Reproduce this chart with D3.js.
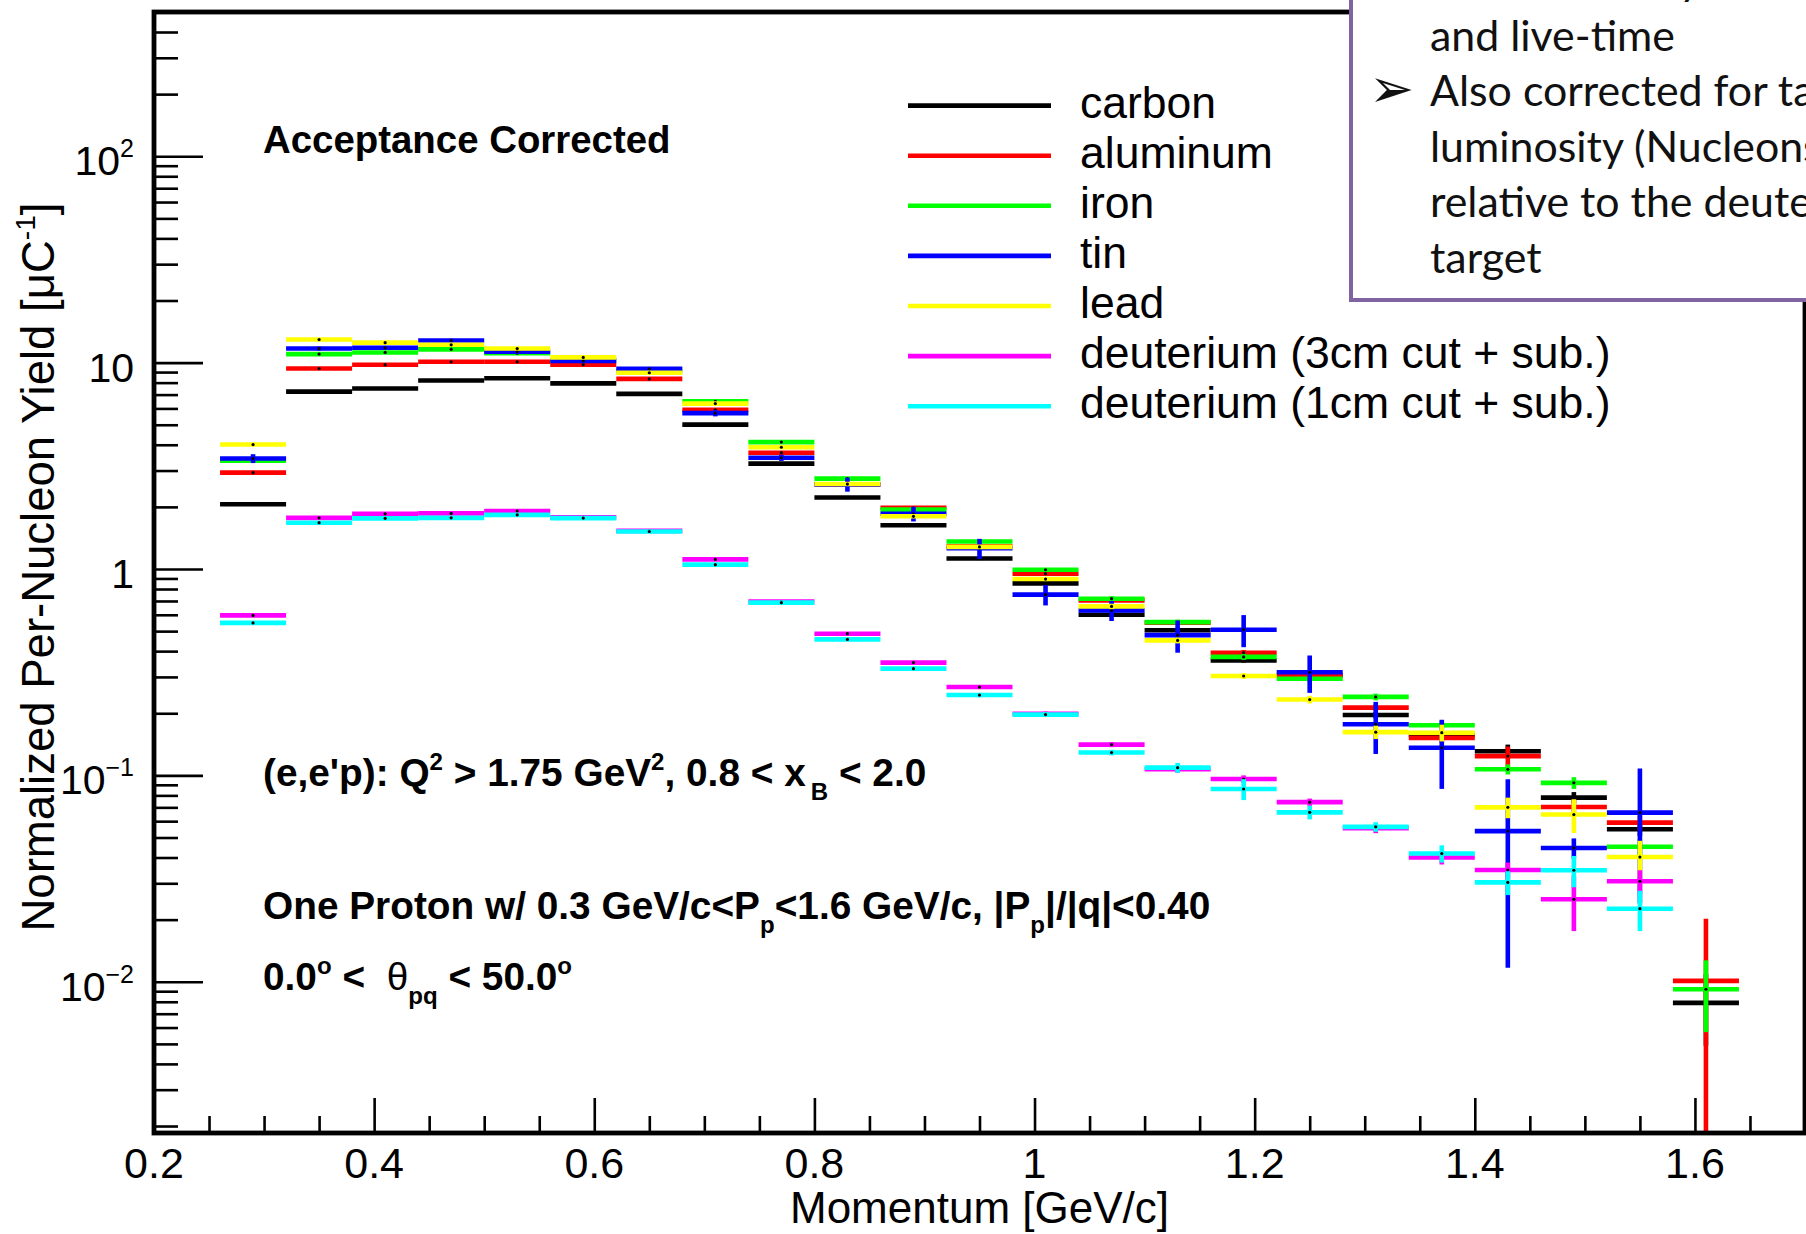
<!DOCTYPE html>
<html><head><meta charset="utf-8">
<script src="https://cdn.jsdelivr.net/npm/d3@7/dist/d3.min.js"></script>
<style>
html,body{margin:0;padding:0;background:#fff;overflow:hidden}
svg{display:block}
text{white-space:pre}
</style></head><body>
<svg id="c" width="1806" height="1234" xmlns="http://www.w3.org/2000/svg"></svg>
<script>
// ---------------- data ----------------
const binCenters = [0.29,0.35,0.41,0.47,0.53,0.59,0.65,0.71,0.77,0.83,0.89,0.95,1.01,1.07,1.13,1.19,1.25,1.31,1.37,1.43,1.49,1.55,1.61];
const binWidth = 0.06;

const carbon   = [2.06,7.24,7.49,8.19,8.4,7.93,7.06,5.01,3.24,2.22,1.63,1.125,0.852,0.60,0.505,0.361,0.304,0.196,0.157,0.131,0.078,0.0548,0.0079];
const aluminum = [2.93,9.36,9.77,10.1,10.1,9.78,8.34,5.9,3.66,2.57,1.98,1.29,0.949,0.705,0.55,0.393,0.306,0.213,0.152,0.124,0.0703,0.059,0.0101];
const iron     = [3.35,11.0,11.2,11.6,11.1,10.3,9.1,6.5,4.12,2.74,1.94,1.36,0.992,0.718,0.553,0.375,0.294,0.240,0.175,0.107,0.092,0.0451,0.0092];
const tin      = [3.43,11.7,11.8,12.8,11.3,10.2,9.33,5.69,3.46,2.57,1.85,1.26,0.751,0.63,0.478,0.508,0.316,0.177,0.136,0.0537,0.0445,0.066,null];
const lead     = [4.01,12.94,12.5,12.2,11.7,10.6,8.93,6.33,3.89,2.58,1.80,1.28,0.894,0.659,0.451,0.303,0.233,0.162,0.161,0.070,0.0646,0.0402,null];
const deut3    = [0.596,1.77,1.85,1.86,1.91,1.78,1.53,1.113,0.695,0.486,0.352,0.268,0.199,0.141,0.107,0.096,0.0742,0.0555,0.0400,0.0348,0.0251,0.0307,null];
const deut1    = [0.548,1.676,1.76,1.77,1.83,1.765,1.52,1.05,0.687,0.456,0.329,0.245,0.197,0.129,0.109,0.0859,0.0662,0.0563,0.0418,0.0303,0.0347,0.0226,null];

const carbonErr   = [0.04,0.08,0.08,0.09,0.09,0.09,0.08,0.06,0.04,0.03,0.025,0.02,0.015,0.012,0.011,0.009,0.008,0.007,0.007,0.01,0.005,0.004,0.003];
const aluminumErr = [0.06,0.1,0.1,0.1,0.1,0.1,0.09,0.07,0.05,0.04,0.035,0.025,0.02,0.02,0.015,0.012,0.01,0.008,0.008,0.014,0.006,0.005,0.0101];
const ironErr     = [0.08,0.12,0.12,0.12,0.12,0.11,0.1,0.08,0.05,0.04,0.03,0.025,0.02,0.02,0.015,0.012,0.01,0.009,0.008,0.006,0.006,0.004,0.0035];
const tinErr      = [0.17,0.25,0.25,0.25,0.22,0.2,0.2,0.2,0.12,0.2,0.15,0.14,0.085,0.07,0.085,0.09,0.065,0.05,0.05,0.042,0.005,0.042,null];
const leadErr     = [0.08,0.15,0.15,0.15,0.14,0.13,0.1,0.08,0.06,0.04,0.03,0.025,0.02,0.02,0.015,0.01,0.01,0.012,0.015,0.008,0.012,0.008,null];
const deut3Err    = [0.01,0.02,0.02,0.02,0.02,0.02,0.02,0.015,0.01,0.008,0.007,0.006,0.005,0.004,0.004,0.004,0.003,0.003,0.003,0.003,0.0075,0.004,null];
const deut1Err    = [0.01,0.02,0.02,0.02,0.02,0.02,0.02,0.015,0.01,0.008,0.007,0.006,0.005,0.004,0.006,0.01,0.005,0.003,0.004,0.004,0.006,0.005,null];

const seriesNames = ["carbon","aluminum","iron","tin","lead","deuterium (3cm cut + sub.)","deuterium (1cm cut + sub.)"];
const seriesValues = [carbon,aluminum,iron,tin,lead,deut3,deut1];
const seriesErrors = [carbonErr,aluminumErr,ironErr,tinErr,leadErr,deut3Err,deut1Err];

const xMajorTicks = [0.2,0.4,0.6,0.8,1.0,1.2,1.4,1.6];
const xTickLabels = ["0.2","0.4","0.6","0.8","1","1.2","1.4","1.6"];
const yMajorTicks = [0.01,0.1,1,10,100];
const yTickBase   = ["10","10","1","10","10"];
const yTickExp    = ["\u22122","\u22121","","","2"];

const boxLines = ["Normalized by beam charge","and live-time","Also corrected for target","luminosity (Nucleons/cm\u00b2)","relative to the deuterium","target"];
const boxBullets = [true,false,true,false,false,false];

// ---------------- style ----------------
const colors = ["#000000","#ff0000","#00ff00","#0000ff","#ffff00","#ff00ff","#00ffff"];
const FONT = "'Liberation Sans', Arial, Helvetica, sans-serif";

const svg = d3.select("#c");
svg.append("rect").attr("width",1806).attr("height",1234).attr("fill","#fff");

const x = d3.scaleLinear().domain([0.2,1.7]).range([154,1805]);
const y = d3.scaleLog().domain([0.00185,500]).range([1133,12]);
const yMin = y.domain()[0];

// ---------------- data marks ----------------
const gData = svg.append("g");
seriesValues.forEach((vals,si)=>{
  const g = gData.append("g");
  const pts = binCenters.map((c,i)=>({c, v: vals[i], e: seriesErrors[si][i]})).filter(d=>d.v!=null);
  g.selectAll("line.h").data(pts).enter().append("line")
    .attr("x1",d=>x(d.c-binWidth/2)).attr("x2",d=>x(d.c+binWidth/2))
    .attr("y1",d=>y(d.v)).attr("y2",d=>y(d.v))
    .attr("stroke",colors[si]).attr("stroke-width",4.6);
  g.selectAll("line.v").data(pts).enter().append("line")
    .attr("x1",d=>x(d.c)).attr("x2",d=>x(d.c))
    .attr("y1",d=>y(d.v+d.e)).attr("y2",d=>y(Math.max(d.v-d.e,yMin)))
    .attr("stroke",colors[si]).attr("stroke-width",4.6);
  g.selectAll("circle").data(pts).enter().append("circle")
    .attr("cx",d=>x(d.c)).attr("cy",d=>y(d.v)).attr("r",1.6).attr("fill","#000");
});

// ---------------- axes ----------------
const xMinor = d3.range(0.25,1.70,0.05).filter(v=>!xMajorTicks.some(m=>Math.abs(m-v)<1e-6));
const axB = svg.append("g").attr("transform","translate(0,1133)");
axB.call(d3.axisBottom(x).tickValues(xMajorTicks).tickSize(-35).tickFormat(""));
const axB2 = svg.append("g").attr("transform","translate(0,1133)");
axB2.call(d3.axisBottom(x).tickValues(xMinor).tickSize(-17).tickFormat(""));

const yMinor = [];
[0.001,0.01,0.1,1,10,100].forEach(dec=>{ for(let k=2;k<=9;k++){ const v=dec*k; if(v>=y.domain()[0] && v<=y.domain()[1]) yMinor.push(v);} });
const axL = svg.append("g").attr("transform","translate(154,0)");
axL.call(d3.axisLeft(y).tickValues(yMajorTicks).tickSize(-49).tickFormat(""));
const axL2 = svg.append("g").attr("transform","translate(154,0)");
axL2.call(d3.axisLeft(y).tickValues(yMinor).tickSize(-24).tickFormat(""));
[axB,axB2,axL,axL2].forEach(a=>{ a.select(".domain").remove(); a.selectAll(".tick line").attr("stroke","#000").attr("stroke-width",2.6); });

// frame
svg.append("rect").attr("x",154).attr("y",12).attr("width",1805-154).attr("height",1133-12)
  .attr("fill","none").attr("stroke","#000").attr("stroke-width",4.8);

// tick labels
xMajorTicks.forEach((v,i)=>{
  svg.append("text").attr("x",x(v)).attr("y",1178).attr("text-anchor","middle")
    .attr("font-family",FONT).attr("font-size",43).attr("fill","#000").text(xTickLabels[i]);
});
yMajorTicks.forEach((v,i)=>{
  const t = svg.append("text").attr("x",134).attr("y",y(v)+19).attr("text-anchor","end")
    .attr("font-family",FONT).attr("font-size",41).attr("fill","#000");
  t.append("tspan").text(yTickBase[i]);
  if (yTickExp[i]) t.append("tspan").attr("dy",-18).attr("font-size",25).text(yTickExp[i]);
});

// rich text helper
function rich(parent, x0, yb, F, parts, weight, extra){
  const t = parent.append("text").attr("x",x0).attr("y",yb).attr("font-size",F)
    .attr("font-family",FONT).attr("font-weight",weight||"normal").attr("fill","#000");
  if (extra) extra(t);
  let cur = 0;
  parts.forEach(p=>{
    const s=p[0], k=p[1]||"n";
    let target=0, size=F;
    if (k==="sup"){ target=-0.42*F; size=0.62*F; }
    if (k==="sub"){ target=0.36*F; size=0.62*F; }
    const ts = t.append("tspan").attr("dy",target-cur).attr("font-size",size).text(s);
    if (p[2]) ts.attr("dx",p[2]);
    if (k==="nw") ts.attr("font-weight","normal");
    cur = target;
  });
  return t;
}

// axis titles
svg.append("text").attr("x",x(0.95)).attr("y",1223).attr("text-anchor","middle")
  .attr("font-family",FONT).attr("font-size",44).attr("fill","#000").text("Momentum [GeV/c]");
rich(svg, 0, 0, 45.5, [["Normalized Per-Nucleon Yield [\u03bcC"],["-1","sup"],["]"]], "normal",
  t=>t.attr("text-anchor","middle").attr("transform","translate(54,567) rotate(-90)"));

// annotations
rich(svg, 263, 153, 38.4, [["Acceptance Corrected"]], "bold");
rich(svg, 263, 786, 38.8, [["(e,e'p): Q"],["2","sup"],[" > 1.75 GeV"],["2","sup"],[", 0.8 < x"],["B","sub",5],[" < 2.0"]], "bold");
rich(svg, 263, 919, 38.8, [["One Proton w/ 0.3 GeV/c<P"],["p","sub"],["<1.6 GeV/c, |P"],["p","sub"],["|/|q|<0.40"]], "bold");
rich(svg, 263, 990, 38.8, [["0.0"],["o","sup"],[" <  "],["\u03b8","nw"],["pq","sub"],[" < 50.0"],["o","sup"]], "bold");

// legend
const gLeg = svg.append("g");
seriesNames.forEach((nm,i)=>{
  const ly = 105.6 + i*50.1;
  gLeg.append("line").attr("x1",908).attr("x2",1051).attr("y1",ly).attr("y2",ly)
    .attr("stroke",colors[i]).attr("stroke-width",4.6);
  gLeg.append("text").attr("x",1080).attr("y",ly+12).attr("font-family",FONT)
    .attr("font-size",44.5).attr("fill","#000").text(nm);
});

// text box (slide overlay)
const gBox = svg.append("g");
gBox.append("rect").attr("x",1351).attr("y",-20).attr("width",520).attr("height",320)
  .attr("fill","#fff").attr("stroke","#8064a2").attr("stroke-width",4);
const boxFont = "Lato, 'Open Sans', sans-serif";
// size the font so that "and live-time" spans ~245px like the reference
const probe = gBox.append("text").attr("font-family",boxFont).attr("font-size",40).text("and live-time");
const pw = probe.node().getComputedTextLength();
probe.remove();
const bf = 40*245/pw;
boxLines.forEach((ln,i)=>{
  const by = -5 + i*55.6;
  gBox.append("text").attr("x",1430).attr("y",by).attr("font-family",boxFont)
    .attr("font-size",bf).attr("fill","#111").text(ln);
  if (boxBullets[i]) gBox.append("text").attr("x",1369).attr("y",by+1).attr("font-family","'DejaVu Sans'")
    .attr("font-size",54).attr("fill","#111").text("\u27a2");
});
</script>
</body></html>
